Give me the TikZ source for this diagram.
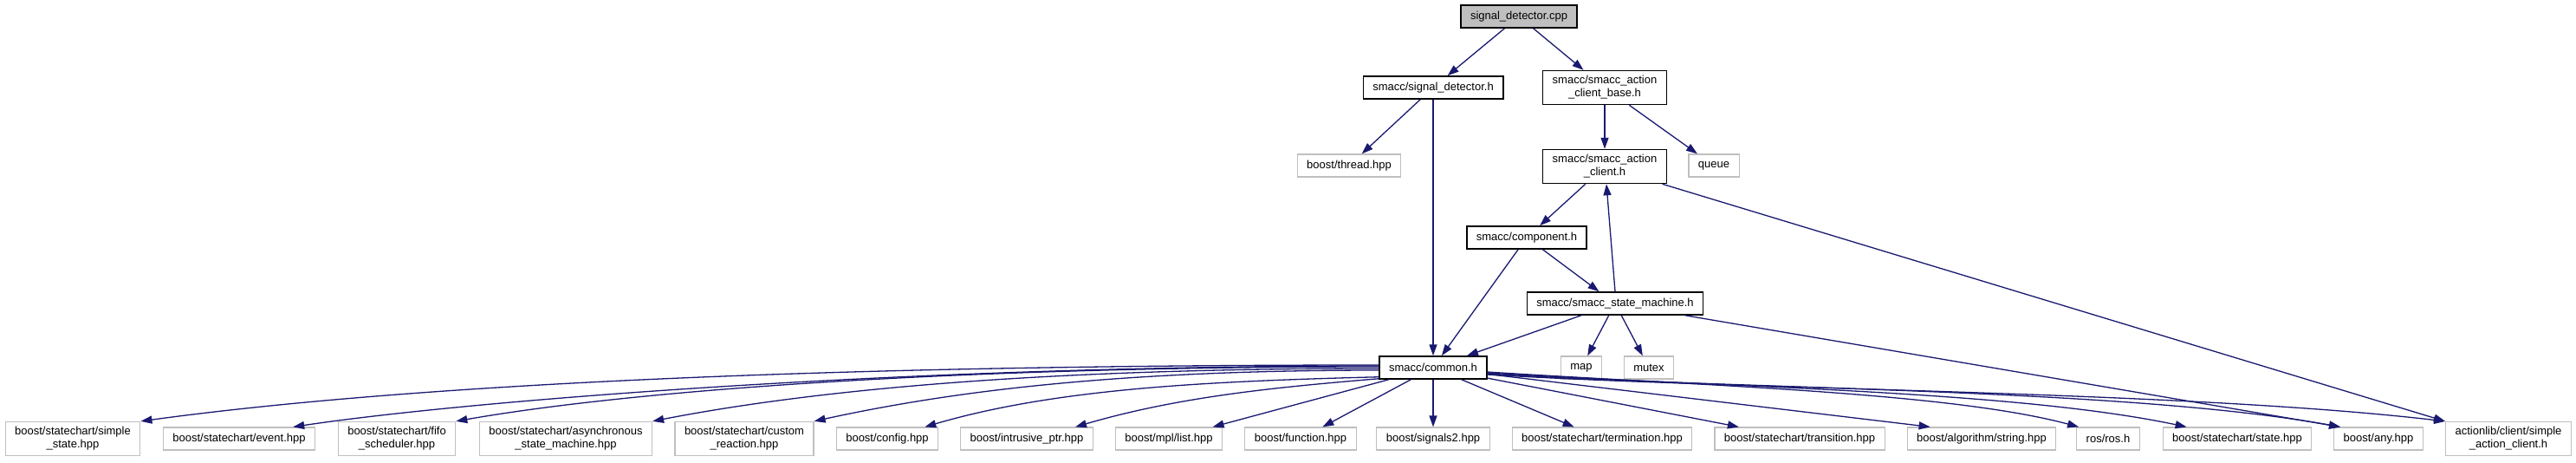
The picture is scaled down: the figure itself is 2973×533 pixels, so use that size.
\documentclass[tikz,border=0pt]{standalone}
\usepackage{fontspec}
\setmainfont{Liberation Sans}
\usetikzlibrary{arrows.meta,calc}
\definecolor{edgeblue}{HTML}{191970}
\definecolor{extgray}{HTML}{BFBFBF}

\begin{document}
\begin{tikzpicture}[
  x=1pt, y=-1pt,
  >={Triangle[length=13pt,width=9pt]},
  file/.style={draw, align=center, font=\fontsize{13}{15}\selectfont, inner xsep=11pt, inner ysep=6pt, minimum height=26pt, fill=white},
  inc/.style={file, draw=black, line width=1.5pt},
  ext/.style={file, draw=extgray, line width=1.2pt},
  src/.style={inc, fill=extgray},
  arr/.style={->, edgeblue, line width=1.3pt}
]
  \useasboundingbox (0,0) rectangle (2973,533);

  % project headers
  \node[src] (cpp) at (1753,19) {signal\_detector.cpp};
  \node[inc] (sigdet) at (1654,101) {smacc/signal\_detector.h};
  \node[inc] (acbase) at (1852,101) {smacc/smacc\_action\\\_client\_base.h};
  \node[ext] (thread) at (1557,191) {boost/thread.hpp};
  \node[ext] (queue) at (1978,191) {queue};
  \node[inc] (acclient) at (1852,192) {smacc/smacc\_action\\\_client.h};
  \node[inc] (component) at (1762,274) {smacc/component.h};
  \node[inc] (statemach) at (1864,350) {smacc/smacc\_state\_machine.h};
  \node[inc] (common) at (1654,424) {smacc/common.h};
  \node[ext] (map) at (1825,424) {map};
  \node[ext] (mutex) at (1903,424) {mutex};

  % external headers
  \node[ext] (simplestate) at (84,506) {boost/statechart/simple\\\_state.hpp};
  \node[ext] (event) at (276,506) {boost/statechart/event.hpp};
  \node[ext] (fifo) at (458,506) {boost/statechart/fifo\\\_scheduler.hpp};
  \node[ext] (async) at (653,506) {boost/statechart/asynchronous\\\_state\_machine.hpp};
  \node[ext] (custom) at (859,506) {boost/statechart/custom\\\_reaction.hpp};
  \node[ext] (config) at (1024,506) {boost/config.hpp};
  \node[ext] (intrusive) at (1185,506) {boost/intrusive\_ptr.hpp};
  \node[ext] (mpllist) at (1349,506) {boost/mpl/list.hpp};
  \node[ext] (function) at (1501,506) {boost/function.hpp};
  \node[ext] (signals) at (1654,506) {boost/signals2.hpp};
  \node[ext] (termination) at (1849,506) {boost/statechart/termination.hpp};
  \node[ext] (transition) at (2077,506) {boost/statechart/transition.hpp};
  \node[ext] (algostring) at (2287,506) {boost/algorithm/string.hpp};
  \node[ext] (ros) at (2433,506) {ros/ros.h};
  \node[ext] (state) at (2582,506) {boost/statechart/state.hpp};
  \node[ext] (any) at (2745,506) {boost/any.hpp};
  \node[ext] (simpleac) at (2895,506) {actionlib/client/simple\\\_action\_client.h};

  % upper edges
  \draw[arr] (cpp) -- (sigdet);
  \draw[arr] (cpp) -- (acbase);
  \draw[arr] (sigdet) -- (thread);
  \draw[arr] (sigdet) -- (common);
  \draw[arr] (acbase) -- (acclient);
  \draw[arr] (acbase) -- (queue);
  \draw[arr] (acclient) -- (component);
  \draw[arr] (acclient) -- (simpleac.north west);
  \draw[arr] (statemach.north) -- ($(acclient.south)+(2,0)$);
  \draw[arr] (component) -- (common);
  \draw[arr] (component) -- (statemach);
  \draw[arr] (statemach) -- (common);
  \draw[arr] (statemach) -- (map);
  \draw[arr] (statemach) -- (mutex);
  \draw[arr] (statemach) -- ($(any.north west)+(8,0)$);

  % common.h to the left
  \draw[arr] ($(common.west)+(0,-3)$) .. controls +(-600,0) and +(330,-45) .. (simplestate.north east);
  \draw[arr] ($(common.west)+(0,-2)$) .. controls +(-550,0) and +(200,-30) .. ($(event.north east)+(-26,0)$);
  \draw[arr] ($(common.west)+(0,-1)$) .. controls +(-500,0) and +(200,-35) .. (fifo.north east);
  \draw[arr] ($(common.west)+(0,1)$) .. controls +(-400,0) and +(180,-35) .. (async.north east);
  \draw[arr] ($(common.west)+(0,3)$) .. controls +(-300,0) and +(160,-35) .. (custom.north east);
  \draw[arr] ($(common.south west)+(0,-3)$) .. controls +(-200,5) and +(150,-44) .. ($(config.north east)+(-16,0)$);
  \draw[arr] ($(common.south west)+(0,-1)$) .. controls +(-120,10) and +(120,-35) .. ($(intrusive.north east)+(-21,0)$);
  \draw[arr] (common) -- (mpllist);
  \draw[arr] (common) -- (function);
  \draw[arr] (common) -- (signals);

  % common.h to the right
  \draw[arr] (common) -- (termination);
  \draw[arr] (common) -- (transition);
  \draw[arr] (common) -- ($(algostring.north west)+(27,0)$);
  \draw[arr] ($(common.east)+(0,5)$) .. controls +(250,16) and +(-150,-40) .. ($(ros.north west)+(3,0)$);
  \draw[arr] ($(common.east)+(0,6)$) .. controls +(280,17) and +(-200,-42) .. ($(state.north west)+(28,0)$);
  \draw[arr] ($(common.east)+(0,7)$) .. controls +(280,18) and +(-250,-45) .. ($(any.north west)+(8,0)$);
  \draw[arr] ($(common.east)+(0,8)$) .. controls +(300,18) and +(-300,-35) .. (simpleac.north west);

\end{tikzpicture}
\end{document}
